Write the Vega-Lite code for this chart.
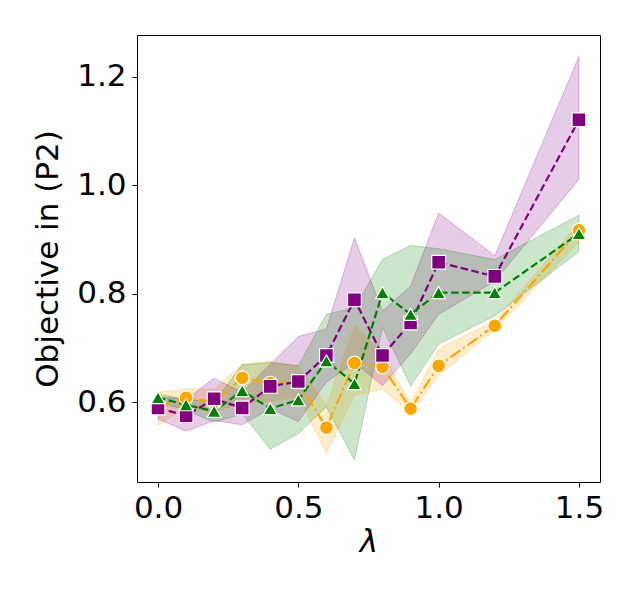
{
  "$schema": "https://vega.github.io/schema/vega-lite/v6.json",
  "autosize": "none",
  "width": 463,
  "height": 447,
  "padding": {"left": 137, "top": 35, "right": 40, "bottom": 118},
  "background": "white",
  "config": {
    "font": "DejaVu Sans",
    "view": {"stroke": "black", "strokeWidth": 1},
    "axis": {
      "grid": false, "domain": false, "tickColor": "black", "tickSize": 5, "tickWidth": 1,
      "labelFontSize": 31, "titleFontSize": 31, "labelColor": "black", "titleColor": "black",
      "labelFont": "DejaVu Sans", "titleFont": "DejaVu Sans", "titleFontWeight": "normal"
    }
  },
  "data": {
    "values": [
      {"lam": 0.0, "series": "orange", "mean": 0.59, "lo": 0.557, "hi": 0.618},
      {"lam": 0.1, "series": "orange", "mean": 0.608, "lo": 0.59, "hi": 0.624},
      {"lam": 0.2, "series": "orange", "mean": 0.6, "lo": 0.58, "hi": 0.624},
      {"lam": 0.3, "series": "orange", "mean": 0.645, "lo": 0.6, "hi": 0.67},
      {"lam": 0.4, "series": "orange", "mean": 0.635, "lo": 0.6, "hi": 0.675},
      {"lam": 0.5, "series": "orange", "mean": 0.637, "lo": 0.61, "hi": 0.667},
      {"lam": 0.6, "series": "orange", "mean": 0.553, "lo": 0.505, "hi": 0.594},
      {"lam": 0.7, "series": "orange", "mean": 0.672, "lo": 0.612, "hi": 0.742},
      {"lam": 0.8, "series": "orange", "mean": 0.665, "lo": 0.624, "hi": 0.69},
      {"lam": 0.9, "series": "orange", "mean": 0.588, "lo": 0.58, "hi": 0.598},
      {"lam": 1.0, "series": "orange", "mean": 0.667, "lo": 0.649, "hi": 0.698},
      {"lam": 1.2, "series": "orange", "mean": 0.741, "lo": 0.733, "hi": 0.75},
      {"lam": 1.5, "series": "orange", "mean": 0.917, "lo": 0.895, "hi": 0.93},
      {"lam": 0.0, "series": "purple", "mean": 0.589, "lo": 0.569, "hi": 0.61},
      {"lam": 0.1, "series": "purple", "mean": 0.575, "lo": 0.546, "hi": 0.605},
      {"lam": 0.2, "series": "purple", "mean": 0.606, "lo": 0.566, "hi": 0.644},
      {"lam": 0.3, "series": "purple", "mean": 0.589, "lo": 0.558, "hi": 0.618},
      {"lam": 0.4, "series": "purple", "mean": 0.629, "lo": 0.588, "hi": 0.67},
      {"lam": 0.5, "series": "purple", "mean": 0.638, "lo": 0.564, "hi": 0.721},
      {"lam": 0.6, "series": "purple", "mean": 0.686, "lo": 0.637, "hi": 0.735},
      {"lam": 0.7, "series": "purple", "mean": 0.789, "lo": 0.673, "hi": 0.903},
      {"lam": 0.8, "series": "purple", "mean": 0.686, "lo": 0.63, "hi": 0.768},
      {"lam": 0.9, "series": "purple", "mean": 0.746, "lo": 0.689, "hi": 0.814},
      {"lam": 1.0, "series": "purple", "mean": 0.858, "lo": 0.762, "hi": 0.949},
      {"lam": 1.2, "series": "purple", "mean": 0.832, "lo": 0.823, "hi": 0.87},
      {"lam": 1.5, "series": "purple", "mean": 1.121, "lo": 1.011, "hi": 1.238},
      {"lam": 0.0, "series": "green", "mean": 0.608, "lo": 0.6, "hi": 0.615},
      {"lam": 0.1, "series": "green", "mean": 0.595, "lo": 0.585, "hi": 0.605},
      {"lam": 0.2, "series": "green", "mean": 0.583, "lo": 0.563, "hi": 0.6},
      {"lam": 0.3, "series": "green", "mean": 0.621, "lo": 0.578, "hi": 0.669},
      {"lam": 0.4, "series": "green", "mean": 0.588, "lo": 0.513, "hi": 0.673},
      {"lam": 0.5, "series": "green", "mean": 0.604, "lo": 0.542, "hi": 0.667},
      {"lam": 0.6, "series": "green", "mean": 0.676, "lo": 0.591, "hi": 0.762},
      {"lam": 0.7, "series": "green", "mean": 0.634, "lo": 0.493, "hi": 0.774},
      {"lam": 0.8, "series": "green", "mean": 0.802, "lo": 0.738, "hi": 0.863},
      {"lam": 0.9, "series": "green", "mean": 0.762, "lo": 0.63, "hi": 0.889},
      {"lam": 1.0, "series": "green", "mean": 0.802, "lo": 0.707, "hi": 0.883},
      {"lam": 1.2, "series": "green", "mean": 0.802, "lo": 0.759, "hi": 0.863},
      {"lam": 1.5, "series": "green", "mean": 0.911, "lo": 0.878, "hi": 0.945}
    ]
  },
  "encoding": {
    "x": {
      "field": "lam", "type": "quantitative",
      "scale": {"domain": [-0.075, 1.575], "nice": false, "zero": false},
      "axis": {"values": [0, 0.5, 1.0, 1.5], "format": ".1f", "title": "λ", "titleFontStyle": "italic", "labelPadding": 6, "titlePadding": 4, "labelFlush": false}
    },
    "color": {
      "field": "series", "type": "nominal", "legend": null,
      "scale": {"domain": ["orange", "purple", "green"], "range": ["#FFA500", "#800080", "#008000"]}
    }
  },
  "layer": [
    {
      "mark": {"type": "area", "opacity": 0.2, "stroke": null},
      "encoding": {
        "y": {
          "field": "lo", "type": "quantitative",
          "scale": {"domain": [0.4525, 1.2775], "nice": false, "zero": false},
          "axis": {"values": [0.6, 0.8, 1.0, 1.2], "format": ".1f", "title": "Objective in (P2)", "labelPadding": 6, "titlePadding": 12}
        },
        "y2": {"field": "hi"}
      }
    },
    {
      "mark": {"type": "area", "opacity": 0.25, "fill": null, "strokeWidth": 1},
      "encoding": {
        "y": {"field": "lo", "type": "quantitative"},
        "y2": {"field": "hi"},
        "stroke": {"field": "series", "type": "nominal", "legend": null, "scale": {"domain": ["orange", "purple", "green"], "range": ["#FFA500", "#800080", "#008000"]}}
      }
    },
    {
      "mark": {"type": "line", "strokeWidth": 2.2},
      "encoding": {
        "y": {"field": "mean", "type": "quantitative"},
        "strokeDash": {
          "field": "series", "type": "nominal", "legend": null,
          "scale": {"domain": ["orange", "purple", "green"], "range": [[12, 3.5, 2, 3.5], [7.5, 3.5], [7.5, 3.5]]}
        }
      }
    },
    {
      "mark": {"type": "point", "filled": true, "opacity": 1, "stroke": "white", "strokeWidth": 1.2, "size": 190},
      "encoding": {
        "y": {"field": "mean", "type": "quantitative"},
        "shape": {
          "field": "series", "type": "nominal", "legend": null,
          "scale": {"domain": ["orange", "purple", "green"], "range": ["circle", "square", "triangle-up"]}
        }
      }
    }
  ]
}
